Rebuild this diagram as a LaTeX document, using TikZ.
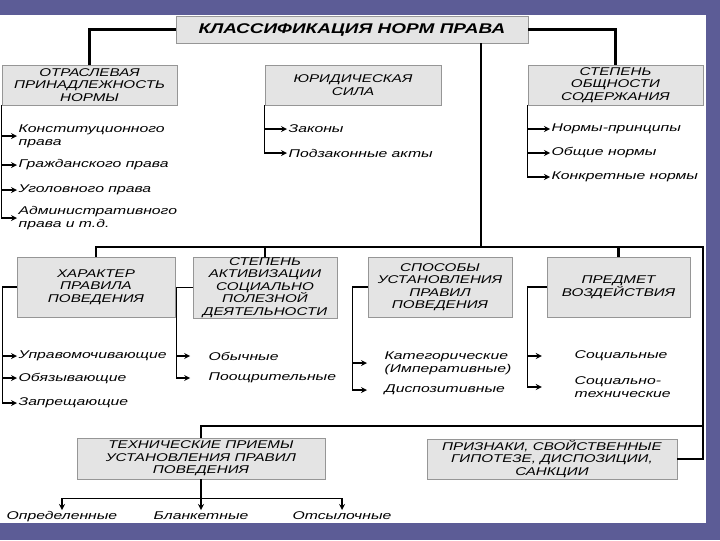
\documentclass[tikz,border=0pt]{standalone}
\usepackage{fontspec}
\setmainfont{Liberation Sans}
\newfontfamily\widefont{Liberation Sans}[FakeStretch=1.35]
\newfontfamily\itemfont{Liberation Sans}[FakeStretch=1.4]
\definecolor{slideblue}{RGB}{92,92,150}
\definecolor{boxgray}{RGB}{228,228,228}
\definecolor{boxline}{RGB}{150,150,150}
\begin{document}
\begin{tikzpicture}[x=0.025cm, y=-0.025cm, >=stealth,
  head/.style={draw=boxline, fill=boxgray, inner sep=0pt, align=center, font=\widefont\itshape\fontsize{8}{8.9}\selectfont},
  leaf/.style={anchor=west, inner sep=1pt, align=left, font=\itemfont\itshape\fontsize{8}{9.2}\selectfont},
  bus/.style={line width=1.6pt},
  twig/.style={->, line width=0.9pt}]
% slide
\fill[slideblue] (0,0) rectangle (720,540);
\fill[white] (0,15) rectangle (706,523);
% boxes
\node[head, font=\widefont\bfseries\itshape\fontsize{10}{12}\selectfont, minimum width=8.8cm, minimum height=0.675cm] (title) at (352,29.5) {КЛАССИФИКАЦИЯ НОРМ ПРАВА};
\node[head, minimum width=4.375cm, minimum height=1cm] (otrasl) at (89.5,85) {ОТРАСЛЕВАЯ\\ПРИНАДЛЕЖНОСТЬ\\НОРМЫ};
\node[head, minimum width=4.4cm, minimum height=1cm] (sila) at (353,85) {ЮРИДИЧЕСКАЯ\\СИЛА};
\node[head, minimum width=4.375cm, minimum height=1cm] (obshch) at (615.5,85) {СТЕПЕНЬ\\ОБЩНОСТИ\\СОДЕРЖАНИЯ};
\node[head, minimum width=3.95cm, minimum height=1.5cm] (harakter) at (96,287) {ХАРАКТЕР\\ПРАВИЛА\\ПОВЕДЕНИЯ};
\node[head, minimum width=3.6cm, minimum height=1.525cm] (aktiv) at (265,287.5) {СТЕПЕНЬ\\АКТИВИЗАЦИИ\\СОЦИАЛЬНО\\ПОЛЕЗНОЙ\\ДЕЯТЕЛЬНОСТИ};
\node[head, minimum width=3.6cm, minimum height=1.5cm] (sposob) at (440,287) {СПОСОБЫ\\УСТАНОВЛЕНИЯ\\ПРАВИЛ\\ПОВЕДЕНИЯ};
\node[head, minimum width=3.575cm, minimum height=1.5cm] (predmet) at (618.5,287) {ПРЕДМЕТ\\ВОЗДЕЙСТВИЯ};
\node[head, minimum width=6.2cm, minimum height=1.025cm] (tehpriem) at (201,458.5) {ТЕХНИЧЕСКИЕ ПРИЕМЫ\\УСТАНОВЛЕНИЯ ПРАВИЛ\\ПОВЕДЕНИЯ};
\node[head, minimum width=6.25cm, minimum height=1cm] (priznak) at (552,459) {ПРИЗНАКИ, СВОЙСТВЕННЫЕ\\ГИПОТЕЗЕ, ДИСПОЗИЦИИ,\\САНКЦИИ};
% free ends of the buses
\coordinate (hub) at (481,247);
\coordinate (rt) at (703,247);
\coordinate (lowbus) at (703,426);
% main connectors
\draw[bus] (title.west) -| (otrasl.north);
\draw[bus] (title.east) -| (obshch.north);
\draw[bus] (title.south -| hub) -- (hub);
\draw[bus] (harakter.north) |- (rt) |- (priznak.east);
\draw[bus] (aktiv.north) -- (aktiv.north |- rt);
\draw[bus] (predmet.north) -- (predmet.north |- rt);
\draw[bus] (tehpriem.north) |- (lowbus);
% leaves
\node[leaf] (o1) at (17,136) {Конституционного\\права};
\node[leaf] (o2) at (17,165) {Гражданского права};
\node[leaf] (o3) at (17,190) {Уголовного права};
\node[leaf] (o4) at (17,218) {Административного\\права и т.д.};
\node[leaf] (s1) at (287,129) {Законы};
\node[leaf] (s2) at (287,153) {Подзаконные акты};
\node[leaf] (g1) at (550,129) {Нормы-принципы};
\node[leaf] (g2) at (550,153) {Общие нормы};
\node[leaf] (g3) at (550,177) {Конкретные нормы};
\node[leaf] (h1) at (17,356) {Управомочивающие};
\node[leaf] (h2) at (17,378) {Обязывающие};
\node[leaf] (h3) at (17,403) {Запрещающие};
\node[leaf] (a1) at (207,356) {Обычные};
\node[leaf] (a2) at (207,378) {Поощрительные};
\node[leaf] (p1) at (383,363) {Категорические\\(Императивные)};
\node[leaf] (p2) at (383,390) {Диспозитивные};
\node[leaf] (m1) at (573,356) {Социальные};
\node[leaf] (m2) at (573,387) {Социально-\\технические};
\node[leaf, anchor=north] (t1) at (62,510) {Определенные};
\node[leaf, anchor=north] (t2) at (201,510) {Бланкетные};
\node[leaf, anchor=north] (t3) at (342,510) {Отсылочные};
% leaf arrows
\draw[twig] (otrasl.south west) |- (o1.west);
\draw[twig] (otrasl.south west) |- (o2.west);
\draw[twig] (otrasl.south west) |- (o3.west);
\draw[twig] (otrasl.south west) |- (o4.west);
\draw[twig] (sila.south west) |- (s1.west);
\draw[twig] (sila.south west) |- (s2.west);
\draw[twig] (obshch.south west) |- (g1.west);
\draw[twig] (obshch.south west) |- (g2.west);
\draw[twig] (obshch.south west) |- (g3.west);
\draw[twig] (harakter.west) -- ++(-14,0) |- (h1.west);
\draw[twig] (harakter.west) -- ++(-14,0) |- (h2.west);
\draw[twig] (harakter.west) -- ++(-14,0) |- (h3.west);
\draw[twig, shorten >=0.42cm] (aktiv.west) -- ++(-16,0) |- (a1.west);
\draw[twig, shorten >=0.42cm] (aktiv.west) -- ++(-16,0) |- (a2.west);
\draw[twig, shorten >=0.4cm] (sposob.west) -- ++(-15,0) |- (p1.west);
\draw[twig, shorten >=0.4cm] (sposob.west) -- ++(-15,0) |- (p2.west);
\draw[twig, shorten >=0.78cm] (predmet.west) -- ++(-19,0) |- (m1.west);
\draw[twig, shorten >=0.78cm] (predmet.west) -- ++(-19,0) |- (m2.west);
\draw[twig] (tehpriem.south) -- (t2.north);
\draw[twig] (tehpriem.south) -- ++(0,19) -| (t1.north);
\draw[twig] (tehpriem.south) -- ++(0,19) -| (t3.north);
\end{tikzpicture}
\end{document}
